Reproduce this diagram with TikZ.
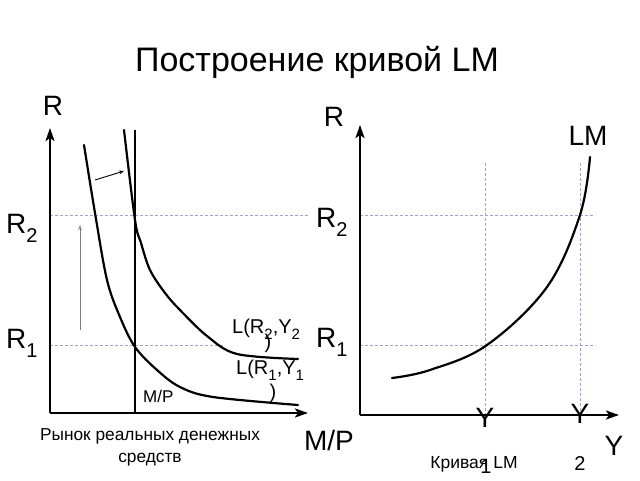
\documentclass[tikz,border=0pt]{standalone}
\usepackage{fontspec}
\setmainfont{Liberation Sans}
\usetikzlibrary{arrows.meta}
\definecolor{dashc}{HTML}{A0A4CC}
\newcommand{\bsub}[1]{\raisebox{-9pt}{\fontsize{20}{20}\selectfont #1}}
\newcommand{\msub}[1]{\raisebox{-6pt}{\fontsize{15}{15}\selectfont #1}}
\tikzset{
  axis/.style={line width=2.2pt,-{Stealth[length=13pt,width=9pt,inset=3pt]}},
  curve/.style={line width=2.2pt,line cap=round},
  guide/.style={dashc,line width=0.9pt,dash pattern=on 3pt off 2pt},
  big/.style={font=\fontsize{28}{30}\selectfont,inner sep=0pt},
  mid/.style={font=\fontsize{20}{22}\selectfont,inner sep=0pt},
  small/.style={font=\fontsize{17.3}{22}\selectfont,inner sep=0pt},
}
\begin{document}
\begin{tikzpicture}[x=1pt,y=-1pt]
\useasboundingbox (0,0) rectangle (640,480);
% title
\node[font=\fontsize{34}{36}\selectfont,inner sep=0pt,anchor=base] (title) at (317,71) {Построение кривой LM};
% ---- left panel ----
\coordinate (o1) at (50,413);
\coordinate (y1top) at (50,128);
\coordinate (x1end) at (308,413);
\coordinate (r2a) at (50,215); \coordinate (r2b) at (310,215);
\coordinate (r1a) at (50,345); \coordinate (r1b) at (223,345);
\draw[guide] (r2a) -- (r2b);
\draw[guide] (r1a) -- (r1b);
\coordinate (mpt) at (135,130); \coordinate (mpb) at (135,413);
\draw[line width=2pt] (mpt) -- (mpb);
\draw[curve] plot[smooth,tension=0.55] coordinates {(84,145) (95,213) (107,280) (120,317) (135,347) (157,370) (180,387) (213,397) (298,405)};
\draw[curve] plot[smooth,tension=0.55] coordinates {(124,130) (135,220) (141,243) (150,270) (165,293) (180,310) (207,336) (237,354) (298,359)};
\draw[axis] (o1) -- (y1top);
\draw[axis] (o1) -- (x1end);
\coordinate (sa) at (95,180); \coordinate (sb) at (124,171);
\draw[line width=0.9pt,-{Stealth[length=5pt,width=4pt]}] (sa) -- (sb);
\coordinate (ga) at (80,330); \coordinate (gb) at (80,225);
\draw[gray,line width=1pt,-{Stealth[length=5pt,width=3.5pt]}] (ga) -- (gb);
\node[big,anchor=base] (Rl) at (53,115) {R};
\node[big,anchor=base west] (R2l) at (6,233) {R\bsub{2}};
\node[big,anchor=base west] (R1l) at (6,348) {R\bsub{1}};
\node[font=\fontsize{17}{19}\selectfont,inner sep=0pt,anchor=base west] (mps) at (143,402) {M/P};
\node[mid,anchor=base west] (L2) at (232,333) {L(R\msub{2},Y\msub{2}};
\node[mid,anchor=base] (L2p) at (268,348) {)};
\node[mid,anchor=base west] (L1) at (236,374) {L(R\msub{1},Y\msub{1}};
\node[mid,anchor=base] (L1p) at (273,398) {)};
\node[big,anchor=base] (MPb) at (329,450) {M/P};
\node[small,align=center] (cap1) at (150,447) {Рынок реальных денежных\\средств};
% ---- right panel ----
\coordinate (o2) at (360,415);
\coordinate (y2top) at (360,125);
\coordinate (x2end) at (619,415);
\coordinate (r2c) at (360,215); \coordinate (r2d) at (595,215);
\coordinate (r1c) at (360,345); \coordinate (r1d) at (595,345);
\coordinate (v1t) at (485,163); \coordinate (v1b) at (485,415);
\coordinate (v2t) at (580,163); \coordinate (v2b) at (580,415);
\draw[guide] (r2c) -- (r2d);
\draw[guide] (r1c) -- (r1d);
\draw[guide] (v1t) -- (v1b);
\draw[guide] (v2t) -- (v2b);
\draw[curve] plot[smooth,tension=0.6] coordinates {(392,378) (430,370) (487,345) (547,287) (580,215) (590,157)};
\draw[axis] (o2) -- (y2top);
\draw[axis] (o2) -- (x2end);
\node[big,anchor=base] (Rr) at (334,126) {R};
\node[big,anchor=base west] (R2r) at (316,227) {R\bsub{2}};
\node[big,anchor=base west] (R1r) at (316,347) {R\bsub{1}};
\node[big,anchor=base] (LM) at (588,145) {LM};
\node[big,anchor=base] (Y1) at (485,427) {Y};
\node[big,anchor=base] (Y2) at (580,423) {Y};
\node[big,anchor=base] (Yax) at (614,455) {Y};
\node[font=\fontsize{20}{20}\selectfont,inner sep=0pt,anchor=base] (s1) at (486,473) {1};
\node[font=\fontsize{20}{20}\selectfont,inner sep=0pt,anchor=base] (s2) at (580,470) {2};
\node[font=\fontsize{17.5}{18}\selectfont,inner sep=0pt,anchor=base] (cap2) at (474,468) {Кривая LM};
\end{tikzpicture}
\end{document}
